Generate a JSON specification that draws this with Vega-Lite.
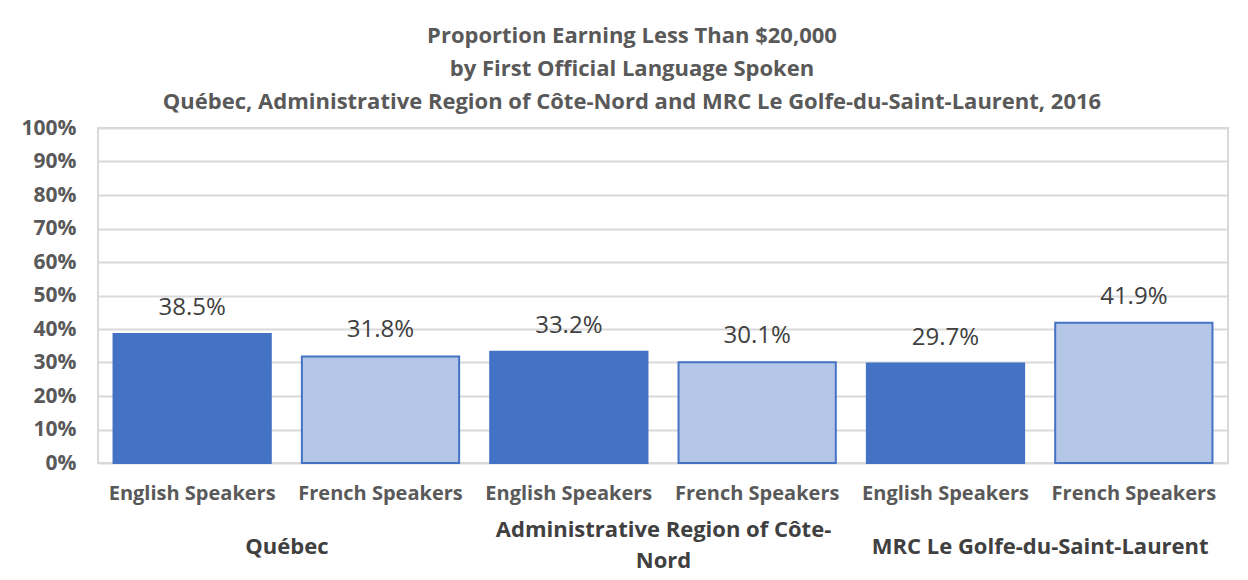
{
  "$schema": "https://vega.github.io/schema/vega-lite/v6.json",
  "autosize": "none",
  "width": 1130,
  "height": 335,
  "padding": {"left": 98, "top": 128, "right": 20, "bottom": 117},
  "background": "white",
  "config": {
    "font": "Open Sans",
    "view": {"stroke": "#D9D9D9", "strokeWidth": 2}
  },
  "title": {
    "text": ["Proportion Earning Less Than $20,000", "by First Official Language Spoken", "Québec, Administrative Region of Côte-Nord and MRC Le Golfe-du-Saint-Laurent, 2016"],
    "anchor": "middle",
    "fontSize": 22,
    "fontWeight": "bold",
    "color": "#595959",
    "lineHeight": 33,
    "offset": 3,
    "dx": -31
  },
  "data": {
    "values": [
      {"bar": "Québec|English Speakers", "region": "Québec", "lang": "English Speakers", "value": 0.385},
      {"bar": "Québec|French Speakers", "region": "Québec", "lang": "French Speakers", "value": 0.318},
      {"bar": "Côte-Nord|English Speakers", "region": "Administrative Region of Côte-Nord", "lang": "English Speakers", "value": 0.332},
      {"bar": "Côte-Nord|French Speakers", "region": "Administrative Region of Côte-Nord", "lang": "French Speakers", "value": 0.301},
      {"bar": "MRC|English Speakers", "region": "MRC Le Golfe-du-Saint-Laurent", "lang": "English Speakers", "value": 0.297},
      {"bar": "MRC|French Speakers", "region": "MRC Le Golfe-du-Saint-Laurent", "lang": "French Speakers", "value": 0.419}
    ]
  },
  "layer": [
    {
      "encoding": {
        "x": {
          "field": "bar", "type": "nominal", "sort": null,
          "scale": {"paddingInner": 0.165, "paddingOuter": 0.0825},
          "axis": {
            "title": null, "orient": "bottom", "domain": false, "ticks": false, "tickSize": 0,
            "labelAngle": 0, "labelPadding": 20, "labelFontSize": 20, "labelFontWeight": "bold",
            "labelColor": "#595959", "labelLimit": 0,
            "labelExpr": "split(datum.value, '|')[1]"
          }
        },
        "y": {
          "field": "value", "type": "quantitative",
          "scale": {"domain": [0, 1], "nice": false},
          "axis": {
            "title": null, "format": ".0%", "values": [0, 0.1, 0.2, 0.3, 0.4, 0.5, 0.6, 0.7, 0.8, 0.9, 1],
            "domain": false, "ticks": false, "tickSize": 0, "labelPadding": 22, "labelOverlap": false,
            "labelFontSize": 21, "labelFontWeight": "bold", "labelColor": "#595959",
            "gridColor": "#D9D9D9", "gridWidth": 2
          }
        }
      },
      "layer": [
        {
          "mark": {"type": "bar", "stroke": "#4472C4", "strokeWidth": 2},
          "encoding": {
            "color": {
              "field": "lang", "type": "nominal",
              "scale": {"domain": ["English Speakers", "French Speakers"], "range": ["#4472C4", "#B4C7E7"]},
              "legend": null
            }
          }
        },
        {
          "mark": {"type": "text", "dy": -26, "baseline": "middle", "fontSize": 24, "color": "#404040"},
          "encoding": {
            "text": {"field": "value", "type": "quantitative", "format": ".1%"}
          }
        }
      ]
    },
    {
      "mark": {"type": "text", "text": "", "opacity": 0},
      "encoding": {
        "x": {
          "field": "region", "type": "nominal", "sort": null,
          "scale": {"paddingInner": 0, "paddingOuter": 0},
          "axis": {
            "title": null, "orient": "bottom", "domain": false, "ticks": false, "tickSize": 0, "grid": false,
            "labelAngle": 0, "labelPadding": 66, "labelBaseline": "middle", "labelFontSize": 22,
            "labelFontWeight": "bold", "labelColor": "#404040", "labelLineHeight": 31, "labelLimit": 0,
            "labelExpr": "datum.value == 'Administrative Region of Côte-Nord' ? ['Administrative Region of Côte-', 'Nord'] : ''"
          }
        }
      }
    },
    {
      "mark": {"type": "text", "text": "", "opacity": 0},
      "encoding": {
        "x": {
          "field": "region", "type": "nominal", "sort": null,
          "scale": {"paddingInner": 0, "paddingOuter": 0},
          "axis": {
            "title": null, "orient": "bottom", "domain": false, "ticks": false, "tickSize": 0, "grid": false,
            "labelAngle": 0, "labelPadding": 83, "labelBaseline": "middle", "labelFontSize": 22,
            "labelFontWeight": "bold", "labelColor": "#404040", "labelLimit": 0,
            "labelExpr": "datum.value == 'Administrative Region of Côte-Nord' ? '' : datum.value"
          }
        }
      }
    }
  ],
  "resolve": {"scale": {"x": "independent"}}
}
